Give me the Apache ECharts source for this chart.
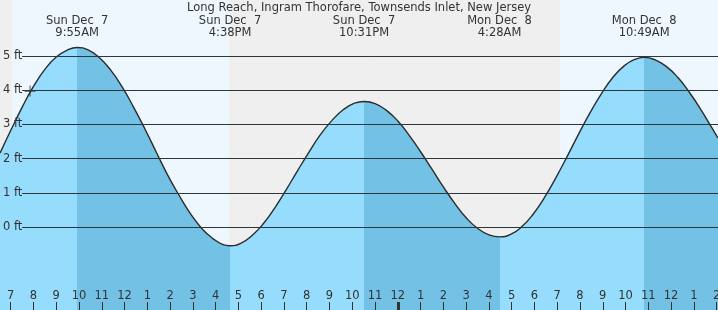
<!DOCTYPE html>
<html>
<head>
<meta charset="utf-8">
<title>Long Reach tide chart</title>
<script src="https://cdn.jsdelivr.net/npm/echarts@6/dist/echarts.min.js"></script>
<style>
  html, body { margin: 0; padding: 0; background: #efefef; }
  #main { width: 718px; height: 310px; }
</style>
</head>
<body>
<div id="main"></div>
<script>
// hours counted from Sun Dec 7 00:00, heights in ft
var tideHours = [6.53, 7.0, 7.5, 8.0, 8.5, 9.0, 9.5, 9.92,
                 10.4, 10.9, 11.4, 11.9, 12.4, 12.9, 13.4, 13.9, 14.4, 14.9, 15.4, 15.9, 16.3, 16.63,
                 17.1, 17.6, 18.1, 18.6, 19.1, 19.6, 20.1, 20.6, 21.1, 21.6, 22.1, 22.52,
                 23.0, 23.5, 24.0, 24.5, 25.0, 25.5, 26.0, 26.5, 27.0, 27.5, 28.0, 28.47,
                 28.95, 29.45, 29.95, 30.45, 30.95, 31.45, 31.95, 32.45, 32.95, 33.45, 33.95, 34.4, 34.82,
                 35.3, 35.8, 36.3, 36.8, 37.3, 37.8, 38.06];
var tideFeet = [2.16, 2.82, 3.50, 4.11, 4.61, 4.97, 5.18, 5.25,
                5.18, 4.95, 4.58, 4.09, 3.50, 2.86, 2.18, 1.51, 0.92, 0.38, -0.05, -0.35, -0.51, -0.55,
                -0.48, -0.25, 0.10, 0.56, 1.09, 1.65, 2.19, 2.70, 3.11, 3.43, 3.62, 3.67,
                3.61, 3.41, 3.10, 2.68, 2.20, 1.69, 1.17, 0.69, 0.27, -0.04, -0.23, -0.29,
                -0.22, 0.01, 0.38, 0.87, 1.45, 2.08, 2.73, 3.35, 3.91, 4.38, 4.72, 4.90, 4.96,
                4.89, 4.69, 4.37, 3.94, 3.44, 2.89, 2.60];

// high / low tides
var extremeHours = [9.917, 16.633, 22.517, 28.467, 34.817];
var extremeDays = ['Sun Dec  7', 'Sun Dec  7', 'Sun Dec  7', 'Mon Dec  8', 'Mon Dec  8'];
var extremeTimes = ['9:55AM', '4:38PM', '10:31PM', '4:28AM', '10:49AM'];

// daylight (sunrise, sunset)
var dayRanges = [[7.06, 16.6], [31.11, 38.06]];

// "now" cross
var nowPoint = [7.85, 3.98];

var tickHours = [7, 8, 9, 10, 11, 12, 13, 14, 15, 16, 17, 18, 19, 20, 21, 22,
                 23, 24, 25, 26, 27, 28, 29, 30, 31, 32, 33, 34, 35, 36, 37, 38];
var tickLabels = ['7', '8', '9', '10', '11', '12', '1', '2', '3', '4', '5', '6', '7', '8', '9', '10',
                  '11', '12', '1', '2', '3', '4', '5', '6', '7', '8', '9', '10', '11', '12', '1', '2'];
var midnightHours = [24];
var feetLevels = [0, 1, 2, 3, 4, 5];

var xMin = 6.53, xMax = 38.06;
var yMin = -2.43, yMax = 6.64;
var gridLineStart = 7.5;   // lines begin just right of the "ft" labels
var labelFeet = 5.85;      // height of the tide time labels

var FONT = 'DejaVu Sans';
var lightBlue = '#96dcfd';
var darkBlue = '#73c2e6';

var curve = tideHours.map(function (h, i) { return [h, tideFeet[i]]; });

// rising water light, falling water dark
var pieces = [{ lt: extremeHours[0], color: lightBlue }];
for (var i = 0; i < extremeHours.length; i++) {
  var p = { gte: extremeHours[i], color: i % 2 === 0 ? darkBlue : lightBlue };
  if (i + 1 < extremeHours.length) p.lt = extremeHours[i + 1];
  pieces.push(p);
}

var gridLines = feetLevels.map(function (v) {
  return [{ coord: [gridLineStart, v] }, { coord: [xMax, v] }];
});

var myechart = echarts.init(document.getElementById('main'));
myechart.setOption({
  animation: false,
  backgroundColor: '#efefef',
  title: {
    text: 'Long Reach, Ingram Thorofare, Townsends Inlet, New Jersey',
    left: 'center',
    top: 2,
    padding: 0,
    textStyle: { fontFamily: FONT, fontSize: 11.5, fontWeight: 'normal', color: '#333' }
  },
  grid: { left: 0, right: 0, top: 0, bottom: 0, outerBoundsMode: 'none' },
  visualMap: {
    show: false,
    type: 'piecewise',
    seriesIndex: 2,
    dimension: 0,
    pieces: pieces
  },
  xAxis: [
    {
      type: 'value', min: xMin, max: xMax, position: 'bottom', z: 10,
      axisLine: { show: false, onZero: false },
      splitLine: { show: false },
      axisTick: { show: true, inside: true, length: 8, customValues: tickHours,
                  lineStyle: { color: '#333', width: 1 } },
      axisLabel: {
        show: true, inside: true, margin: 8, customValues: tickHours,
        formatter: function (v) {
          var k = tickHours.indexOf(v);
          return k < 0 ? '' : tickLabels[k];
        },
        color: '#333', fontFamily: FONT, fontSize: 11.5
      }
    },
    {
      type: 'value', min: xMin, max: xMax, position: 'bottom', z: 10,
      axisLine: { show: false, onZero: false },
      splitLine: { show: false },
      axisLabel: { show: false },
      axisTick: { show: true, inside: true, length: 8, customValues: midnightHours,
                  lineStyle: { color: '#333', width: 3 } }
    }
  ],
  yAxis: {
    type: 'value', min: yMin, max: yMax, z: 10,
    axisLine: { show: false },
    axisTick: { show: false },
    splitLine: { show: false },
    axisLabel: {
      inside: true, margin: 3, customValues: feetLevels,
      formatter: function (v) { return v + ' ft'; },
      color: '#333', fontFamily: FONT, fontSize: 11.5
    }
  },
  series: [
    {
      // day / night background
      type: 'line', data: curve, z: 0, silent: true, showSymbol: false,
      lineStyle: { opacity: 0 },
      markArea: {
        silent: true,
        itemStyle: { color: '#eef7fe' },
        data: dayRanges.map(function (r) { return [{ xAxis: r[0] }, { xAxis: r[1] }]; })
      }
    },
    {
      // black level lines
      type: 'line', data: curve, z: 1, silent: true, showSymbol: false,
      lineStyle: { opacity: 0 },
      markLine: {
        silent: true, symbol: 'none', label: { show: false },
        lineStyle: { color: '#333', width: 1, type: 'solid' },
        data: gridLines
      }
    },
    {
      // water fill
      type: 'line', data: curve, z: 2, smooth: 0.5, silent: true, showSymbol: false,
      lineStyle: { width: 0 },
      areaStyle: { opacity: 1, origin: 'start' }
    },
    {
      // level lines seen through the water
      type: 'line', data: curve, z: 3, silent: true, showSymbol: false,
      lineStyle: { opacity: 0 },
      markLine: {
        silent: true, symbol: 'none', label: { show: false },
        lineStyle: { color: 'rgba(0,80,130,0.13)', width: 1, type: 'solid' },
        data: gridLines
      }
    },
    {
      // tide curve
      type: 'line', data: curve, z: 4, smooth: 0.5, silent: true, showSymbol: false,
      lineStyle: { color: '#2b2b2b', width: 1.4 },
      markPoint: {
        silent: true,
        symbol: 'circle',
        symbolSize: 0,
        label: {
          show: true, position: 'inside', align: 'center',
          color: '#333', fontFamily: FONT, fontSize: 11.5, lineHeight: 12
        },
        data: extremeHours.map(function (h, i) {
          return {
            coord: [h, labelFeet],
            label: { formatter: extremeDays[i] + '\n' + extremeTimes[i] }
          };
        })
      }
    },
    {
      type: 'scatter', data: [nowPoint], z: 5, silent: true,
      symbol: 'path://M0,9.5H20V11.5H0ZM9,0H11V20H9Z',
      symbolSize: 11,
      itemStyle: { color: '#333' }
    }
  ]
});
</script>
</body>
</html>
